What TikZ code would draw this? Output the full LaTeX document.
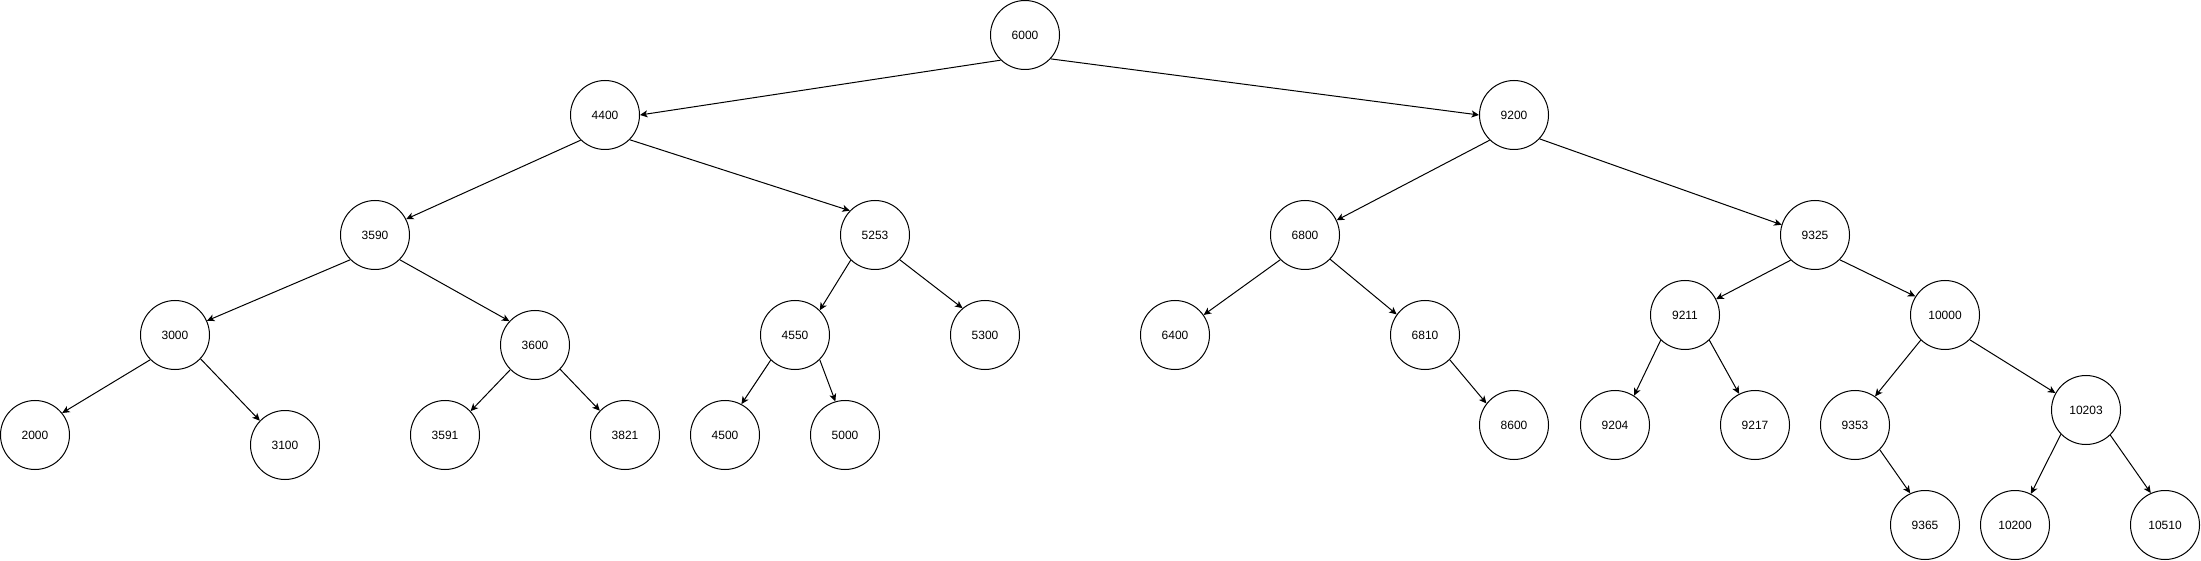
\documentclass[tikz,border=0pt]{standalone}
\usepackage{fontspec}
\setmainfont{Liberation Sans}
\usetikzlibrary{arrows.meta}
\begin{document}
\begin{tikzpicture}[x=1pt,y=-1pt,
  bst/.style={circle,draw,line width=1pt,minimum size=69pt,inner sep=0pt,font=\fontsize{12}{14}\selectfont},
  arr/.style={line width=1pt,-{Stealth[length=7.5pt,width=7pt,inset=2pt]}}]
\fill[white] (0,0) rectangle (2201,561);
\useasboundingbox (0,0) rectangle (2201,561);
\node[bst] (a6000) at (1025,35) {6000};
\node[bst] (a4400) at (605,115) {4400};
\node[bst] (a9200) at (1514,115) {9200};
\node[bst] (a3590) at (375,235) {3590};
\node[bst] (a5253) at (875,235) {5253};
\node[bst] (a6800) at (1305,235) {6800};
\node[bst] (a9325) at (1815,235) {9325};
\node[bst] (a3000) at (175,335) {3000};
\node[bst] (a3600) at (535,345) {3600};
\node[bst] (a4550) at (795,335) {4550};
\node[bst] (a5300) at (985,335) {5300};
\node[bst] (a6400) at (1175,335) {6400};
\node[bst] (a6810) at (1425,335) {6810};
\node[bst] (a9211) at (1685,315) {9211};
\node[bst] (a10000) at (1945,315) {10000};
\node[bst] (a2000) at (35,435) {2000};
\node[bst] (a3100) at (285,445) {3100};
\node[bst] (a3591) at (445,435) {3591};
\node[bst] (a3821) at (625,435) {3821};
\node[bst] (a4500) at (725,435) {4500};
\node[bst] (a5000) at (845,435) {5000};
\node[bst] (a8600) at (1514,425) {8600};
\node[bst] (a9204) at (1615,425) {9204};
\node[bst] (a9217) at (1755,425) {9217};
\node[bst] (a9353) at (1855,425) {9353};
\node[bst] (a10203) at (2086,410) {10203};
\node[bst] (a9365) at (1925,525) {9365};
\node[bst] (a10200) at (2015,525) {10200};
\node[bst] (a10510) at (2165,525) {10510};
\draw[arr] (a6000.226) -- (a4400.east);
\draw[arr] (a6000.317) -- (a9200.west);
\draw[arr] (a4400.226) -- (a3590.27);
\draw[arr] (a4400.315) -- (a5253.136);
\draw[arr] (a3590.225) -- (a3000.24);
\draw[arr] (a3590.315) -- (a3600.137);
\draw[arr] (a3000.225) -- (a2000.39);
\draw[arr] (a3000.317) -- (a3100.136);
\draw[arr] (a3600.225) -- (a3591.43);
\draw[arr] (a3600.316) -- (a3821.136);
\draw[arr] (a5253.226) -- (a4550.45);
\draw[arr] (a5253.315) -- (a5300.130);
\draw[arr] (a4550.226) -- (a4500.62);
\draw[arr] (a4550.315) -- (a5000.106);
\draw[arr] (a9200.226) -- (a6800.25);
\draw[arr] (a9200.317) -- (a9325.163);
\draw[arr] (a6800.225) -- (a6400.35);
\draw[arr] (a6800.316) -- (a6810.144);
\draw[arr] (a9325.226) -- (a9211.27);
\draw[arr] (a9325.315) -- (a10000.148);
\draw[arr] (a6810.315) -- (a8600.142);
\draw[arr] (a9211.226) -- (a9204.57);
\draw[arr] (a9211.314) -- (a9217.117);
\draw[arr] (a10000.226) -- (a9353.55);
\draw[arr] (a10000.315) -- (a10203.151);
\draw[arr] (a9353.315) -- (a9365.115);
\draw[arr] (a10203.224) -- (a10200.63);
\draw[arr] (a10203.314) -- (a10510.114);
\end{tikzpicture}
\end{document}
